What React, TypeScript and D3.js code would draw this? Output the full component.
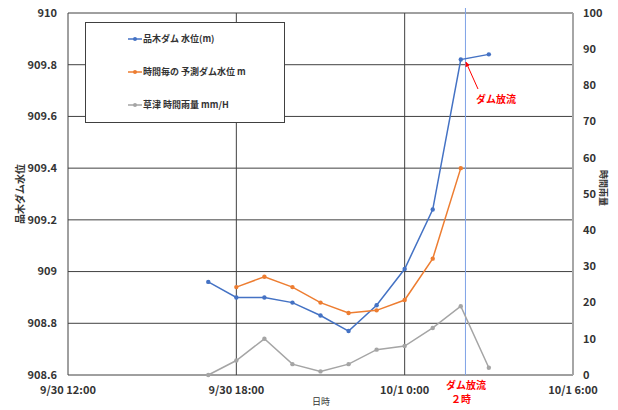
import React from "react";
import * as d3 from "d3";

const times = ["2023-09-30T17:00", "2023-09-30T18:00", "2023-09-30T19:00", "2023-09-30T20:00", "2023-09-30T21:00", "2023-09-30T22:00", "2023-09-30T23:00", "2023-10-01T00:00", "2023-10-01T01:00", "2023-10-01T02:00", "2023-10-01T03:00"];
const damLevel = [908.96, 908.90, 908.90, 908.88, 908.83, 908.77, 908.87, 909.01, 909.24, 909.82, 909.84];
const predicted = [null, 908.94, 908.98, 908.94, 908.88, 908.84, 908.85, 908.89, 909.05, 909.40, null];
const rain = [0, 4, 10, 3, 1, 3, 7, 8, 13, 19, 2];
const leftTicks = [908.6, 908.8, 909, 909.2, 909.4, 909.6, 909.8, 910];
const rightTicks = [0, 10, 20, 30, 40, 50, 60, 70, 80, 90, 100];
const xTicks = ["2023-09-30T12:00", "2023-09-30T18:00", "2023-10-01T00:00", "2023-10-01T06:00"];
const xTickLabels = ["9/30 12:00", "9/30 18:00", "10/1 0:00", "10/1 6:00"];
const releaseTime = "2023-10-01T02:10";
const seriesNames = ["品木ダム 水位(m)", "時間毎の 予測ダム水位 m", "草津 時間雨量 mm/H"];

const W = 618, H = 410;
const L = 68, R = 573, T = 13, B = 375;
const font = "'Noto Sans CJK JP', 'Noto Sans', sans-serif";
const txt = "#333333";

export default function App() {
  const parse = (s: string) => new Date(s);
  const x = d3.scaleTime().domain([parse(xTicks[0]), parse(xTicks[3])]).range([L, R]);
  const yL = d3.scaleLinear().domain([908.6, 910]).range([B, T]);
  const yR = d3.scaleLinear().domain([0, 100]).range([B, T]);

  const mk = (vals: (number | null)[], y: d3.ScaleLinear<number, number>) =>
    times.map((t, i) => ({ x: x(parse(t)), v: vals[i] })).filter(d => d.v != null).map(d => ({ x: d.x, y: y(d.v as number) }));

  const lineGen = d3.line<{ x: number; y: number }>().x(d => d.x).y(d => d.y);
  const series = [
    { pts: mk(damLevel, yL), color: "#4472C4" },
    { pts: mk(predicted, yL), color: "#ED7D31" },
    { pts: mk(rain, yR), color: "#A5A5A5" },
  ];
  const xr = x(parse(releaseTime));
  const tip = { x: xr, y: yL(909.81) };

  return (
    <svg width={W} height={H} style={{ position: "absolute", left: 0, top: 0, background: "#fff" }} fontFamily={font}>
      <defs>
        <marker id="arr" viewBox="0 0 10 10" refX="9" refY="5" markerWidth="5" markerHeight="5" orient="auto">
          <path d="M0,0 L10,5 L0,10 z" fill="#FF0000" />
        </marker>
      </defs>
      {leftTicks.map(t => (
        <line key={"h" + t} x1={L} x2={R} y1={yL(t)} y2={yL(t)} stroke="#404040" strokeWidth={1} />
      ))}
      {xTicks.slice(0, 3).map(t => (
        <line key={"v" + t} x1={x(parse(t))} x2={x(parse(t))} y1={T} y2={B} stroke="#404040" strokeWidth={1} />
      ))}
      <line x1={R} x2={R} y1={T} y2={B} stroke="#a6a6a6" strokeWidth={2} />
      {leftTicks.map(t => (
        <text key={"lt" + t} x={57} y={yL(t)} dy="0.35em" textAnchor="end" fontSize={11} fontWeight="bold" fill={txt}>{d3.format("")(t)}</text>
      ))}
      {rightTicks.map(t => (
        <text key={"rt" + t} x={583} y={yR(t)} dy="0.35em" textAnchor="start" fontSize={11} fontWeight="bold" fill={txt}>{t}</text>
      ))}
      {xTicks.map((t, i) => (
        <text key={"xt" + t} x={x(parse(t))} y={390} dy="0.35em" textAnchor="middle" fontSize={11} fontWeight="bold" fill={txt}>{xTickLabels[i]}</text>
      ))}
      <text x={321} y={402} dy="0.35em" textAnchor="middle" fontSize={9} fill={txt}>日時</text>
      <text transform={`translate(20,194) rotate(-90)`} textAnchor="middle" dy="0.35em" fontSize={10} fontWeight="bold" fill={txt}>品木ダム水位</text>
      <text transform={`translate(603,188) rotate(90)`} textAnchor="middle" dy="0.35em" fontSize={9} fontWeight="bold" fill={txt}>時間雨量</text>
      <line x1={xr} x2={xr} y1={8} y2={B} stroke="#7FA3E6" strokeWidth={1} />
      {series.map((s, i) => (
        <g key={"s" + i}>
          <path d={lineGen(s.pts) || ""} fill="none" stroke={s.color} strokeWidth={1.5} />
          {s.pts.map((p, j) => <circle key={j} cx={p.x} cy={p.y} r={2.2} fill={s.color} />)}
        </g>
      ))}
      <rect x={85.5} y={22.5} width={199} height={100} fill="#fff" stroke="#404040" strokeWidth={1} />
      {seriesNames.map((n, i) => (
        <g key={"lg" + i} transform={`translate(0,${39 + i * 33})`}>
          <line x1={128} x2={142} y1={0} y2={0} stroke={series[i].color} strokeWidth={1.5} />
          <circle cx={135} cy={0} r={2} fill={series[i].color} />
          <text x={143} y={0} dy="0.35em" fontSize={9} fontWeight="bold" fill={txt}>{n}</text>
        </g>
      ))}
      <line x1={478} y1={89} x2={tip.x + 0.5} y2={tip.y} stroke="#FF0000" strokeWidth={1} markerEnd="url(#arr)" />
      <text x={476} y={99} dy="0.35em" fontSize={10} fontWeight="bold" fill="#FF0000">ダム放流</text>
      <text x={466} y={385} dy="0.35em" textAnchor="middle" fontSize={10} fontWeight="bold" fill="#FF0000">ダム放流</text>
      <text x={461} y={399} dy="0.35em" textAnchor="middle" fontSize={10} fontWeight="bold" fill="#FF0000">２時</text>
    </svg>
  );
}
